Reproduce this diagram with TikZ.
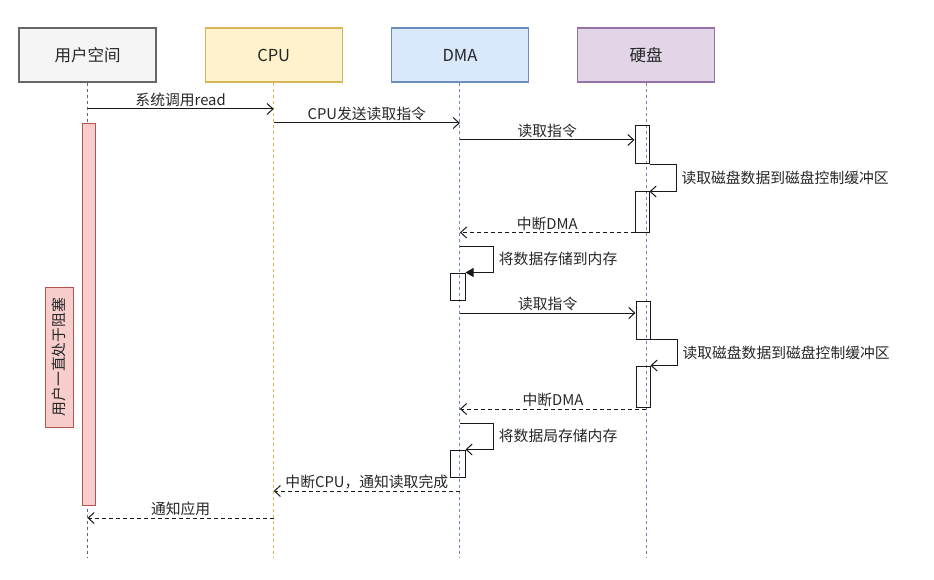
\documentclass[tikz,border=0pt]{standalone}
\usepackage{fontspec}
\setmainfont{Noto Sans CJK SC}
\usepackage{xcolor}
\definecolor{userFill}{HTML}{F5F5F5}
\definecolor{userLine}{HTML}{666666}
\definecolor{cpuFill}{HTML}{FFF2CC}
\definecolor{cpuLine}{HTML}{D6B656}
\definecolor{dmaFill}{HTML}{DAE8FC}
\definecolor{dmaLine}{HTML}{6C8EBF}
\definecolor{diskFill}{HTML}{E1D5E7}
\definecolor{diskLine}{HTML}{9673A6}
\definecolor{blockFill}{HTML}{F8CECC}
\definecolor{blockLine}{HTML}{B85450}
\usepackage{tikz}
\usetikzlibrary{
    arrows.meta,
    positioning
}

\begin{document}
\begin{tikzpicture}[
    x=1pt, y=-1pt,
    actorBox/.style={
        rectangle, line width=1.2pt,
        minimum width=137pt, minimum height=54pt,
        font=\fontsize{16.5}{19}\selectfont, text=black!85
    },
    lifeLine/.style={
        line width=1pt, dash pattern=on 3pt off 3pt
    },
    actBox/.style={
        rectangle, draw=black!90, line width=1pt,
        minimum width=14pt, inner sep=0pt
    },
    blockBox/.style={
        rectangle, draw=blockLine, line width=1pt, fill=blockFill,
        inner sep=0pt
    },
    msgArrow/.style={
        -{Straight Barb[length=6pt, width=11pt]}, line width=1pt, draw=black!90
    },
    replyArrow/.style={
        msgArrow, dash pattern=on 4pt off 3pt
    },
    msgLabel/.style={
        font=\fontsize{14.8}{17}\selectfont, text=black!85, inner sep=1.5pt
    }
]

    \useasboundingbox (0,0) rectangle (934,580);

    % Participants
    \node[actorBox, draw=userLine, fill=userFill] (user) at (87.5,55) {用户空间};
    \node[actorBox, draw=cpuLine, fill=cpuFill, right=48pt of user] (cpu) {CPU};
    \node[actorBox, draw=dmaLine, fill=dmaFill, right=48pt of cpu] (dma) {DMA};
    \node[actorBox, draw=diskLine, fill=diskFill, right=48pt of dma] (disk) {硬盘};

    % Message rows
    \coordinate (rowCall) at (0,109);
    \coordinate (rowCmd) at (0,123);
    \coordinate (rowReadA) at (0,140);
    \coordinate (rowStoreA) at (0,246);
    \coordinate (rowReadB) at (0,313);
    \coordinate (rowIrqB) at (0,409);
    \coordinate (rowStoreB) at (0,423);
    \coordinate (rowIrqCpu) at (0,491);
    \coordinate (rowNotify) at (0,518);
    \coordinate (rowEnd) at (0,557);

    % Lifelines
    \draw[lifeLine, draw=userLine] (user.south) -- (user |- rowEnd);
    \draw[lifeLine, draw=cpuLine] (cpu.south) -- (cpu |- rowEnd);
    \draw[lifeLine, draw=dmaLine] (dma.south) -- (dma |- rowEnd);
    \draw[lifeLine, draw=diskLine] (disk.south) -- (disk |- rowEnd);

    % Activations
    \node[blockBox, minimum width=13pt, minimum height=381pt] (userAct) at (88.5,314.5) {};
    \node[blockBox, rotate=90, minimum width=140pt, minimum height=28pt,
          font=\fontsize{14.8}{17}\selectfont, text=black!85] (blockNote) at (59,357) {用户一直处于阻塞};

    \node[actBox, minimum height=38pt] (diskActA) at (642,145) {};
    \node[actBox, minimum height=40pt] (diskActB) at (642,212) {};
    \node[actBox, minimum height=38pt] (diskActC) at (643,320) {};
    \node[actBox, minimum height=41pt] (diskActD) at (643,386.5) {};
    \node[actBox, minimum width=15pt, minimum height=27pt] (dmaActA) at (457.5,286.5) {};
    \node[actBox, minimum width=15pt, minimum height=27pt] (dmaActB) at (457.5,463.5) {};

    % Messages
    \draw[msgArrow] (user |- rowCall) -- node[msgLabel, above] {系统调用read} (cpu |- rowCall);
    \draw[msgArrow] (cpu |- rowCmd) -- node[msgLabel, above] {CPU发送读取指令} (dma |- rowCmd);

    \draw[msgArrow] (dma |- rowReadA) -- node[msgLabel, above] {读取指令} (diskActA.west |- rowReadA);
    \draw[msgArrow] (diskActA.south east) -- ++(27,0)
        |- node[msgLabel, pos=0.25, right=3pt] {读取磁盘数据到磁盘控制缓冲区} (diskActB.north east);
    \draw[replyArrow] (diskActB.south west) -- node[msgLabel, above] {中断DMA} (diskActB.south west -| dma);

    \draw[msgArrow, -{Triangle[length=8pt, width=9pt]}] (dma |- rowStoreA) -- ++(34,0)
        |- node[msgLabel, pos=0.25, right=3pt] {将数据存储到内存} (dmaActA.north east);

    \draw[msgArrow] (dma |- rowReadB) -- node[msgLabel, above] {读取指令} (diskActC.west |- rowReadB);
    \draw[msgArrow] (diskActC.south east) -- ++(27,0)
        |- node[msgLabel, pos=0.25, right=3pt] {读取磁盘数据到磁盘控制缓冲区} (diskActD.north east);
    \draw[replyArrow] (disk |- rowIrqB) -- node[msgLabel, above] {中断DMA} (dma |- rowIrqB);

    \draw[msgArrow] (dma |- rowStoreB) -- ++(34,0)
        |- node[msgLabel, pos=0.25, right=3pt] {将数据局存储内存} (dmaActB.north east);

    \draw[replyArrow] (dma |- rowIrqCpu) -- node[msgLabel, above] {中断CPU，通知读取完成} (cpu |- rowIrqCpu);
    \draw[replyArrow] (cpu |- rowNotify) -- node[msgLabel, above] {通知应用} (user |- rowNotify);

\end{tikzpicture}
\end{document}
